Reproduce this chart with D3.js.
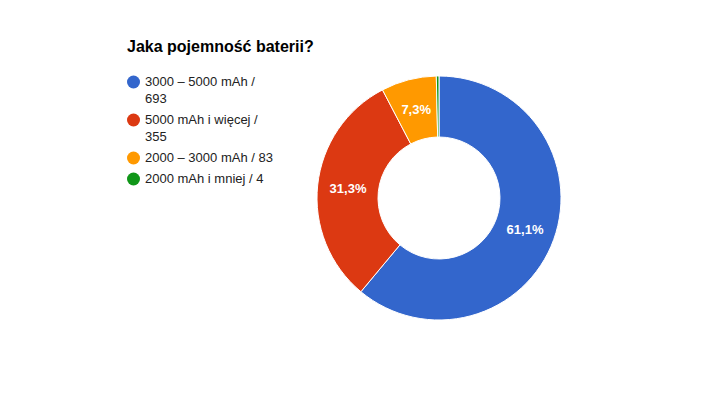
<!DOCTYPE html>
<html>
<head>
<meta charset="utf-8">
<script src="https://cdn.jsdelivr.net/npm/d3@7"></script>
<style>
  body { margin: 0; background: #fff; }
  svg { display: block; font-family: Arial, "Liberation Sans", sans-serif; }
</style>
</head>
<body>
<div id="chart"></div>
<script>
const title = 'Jaka pojemność baterii?';
const categories = ['3000 – 5000 mAh', '5000 mAh i więcej', '2000 – 3000 mAh', '2000 mAh i mniej'];
const counts = [693, 355, 83, 4];
const colors = ['#3366cc', '#dc3912', '#ff9900', '#109618'];
// legend text broken into lines the way the reference wraps it
const legendLines = [
  ['3000 – 5000 mAh /', '693'],
  ['5000 mAh i więcej /', '355'],
  ['2000 – 3000 mAh / 83'],
  ['2000 mAh i mniej / 4']
];

const width = 704, height = 396;
const cx = 439, cy = 198, outerR = 122, innerR = 61;

const svg = d3.select('#chart').append('svg')
  .attr('width', width)
  .attr('height', height);

svg.append('text')
  .attr('x', 127)
  .attr('y', 52)
  .attr('font-size', 16)
  .attr('font-weight', 'bold')
  .attr('fill', '#000')
  .text(title);

// legend
let y = 86;
const legend = svg.append('g').attr('class', 'legend');
categories.forEach((c, i) => {
  legend.append('circle')
    .attr('cx', 133.5)
    .attr('cy', y - 4)
    .attr('r', 6.5)
    .attr('fill', colors[i]);
  legendLines[i].forEach((line, j) => {
    legend.append('text')
      .attr('x', 145)
      .attr('y', y + j * 17)
      .attr('font-size', 13)
      .attr('fill', '#222')
      .text(line);
  });
  y += (legendLines[i].length - 1) * 17 + 21;
});

// donut
const total = d3.sum(counts);
const pie = d3.pie().sort(null).value(d => d);
const arcs = pie(counts);
const arc = d3.arc().innerRadius(innerR).outerRadius(outerR);
const labelArc = d3.arc().innerRadius((innerR + outerR) / 2).outerRadius((innerR + outerR) / 2);

const chart = svg.append('g')
  .attr('transform', `translate(${cx}, ${cy})`);

chart.selectAll('path')
  .data(arcs)
  .enter().append('path')
  .attr('d', arc)
  .attr('fill', (d, i) => colors[i])
  .attr('stroke', '#fff')
  .attr('stroke-width', 1);

const fmt = v => (v * 100).toFixed(1).replace('.', ',') + '%';
chart.selectAll('text.slice')
  .data(arcs.filter(d => d.value / total > 0.02))
  .enter().append('text')
  .attr('class', 'slice')
  .attr('transform', d => `translate(${labelArc.centroid(d)})`)
  .attr('dy', '0.35em')
  .attr('text-anchor', 'middle')
  .attr('font-size', 13)
  .attr('font-weight', 'bold')
  .attr('fill', '#fff')
  .text(d => fmt(d.value / total));
</script>
</body>
</html>
